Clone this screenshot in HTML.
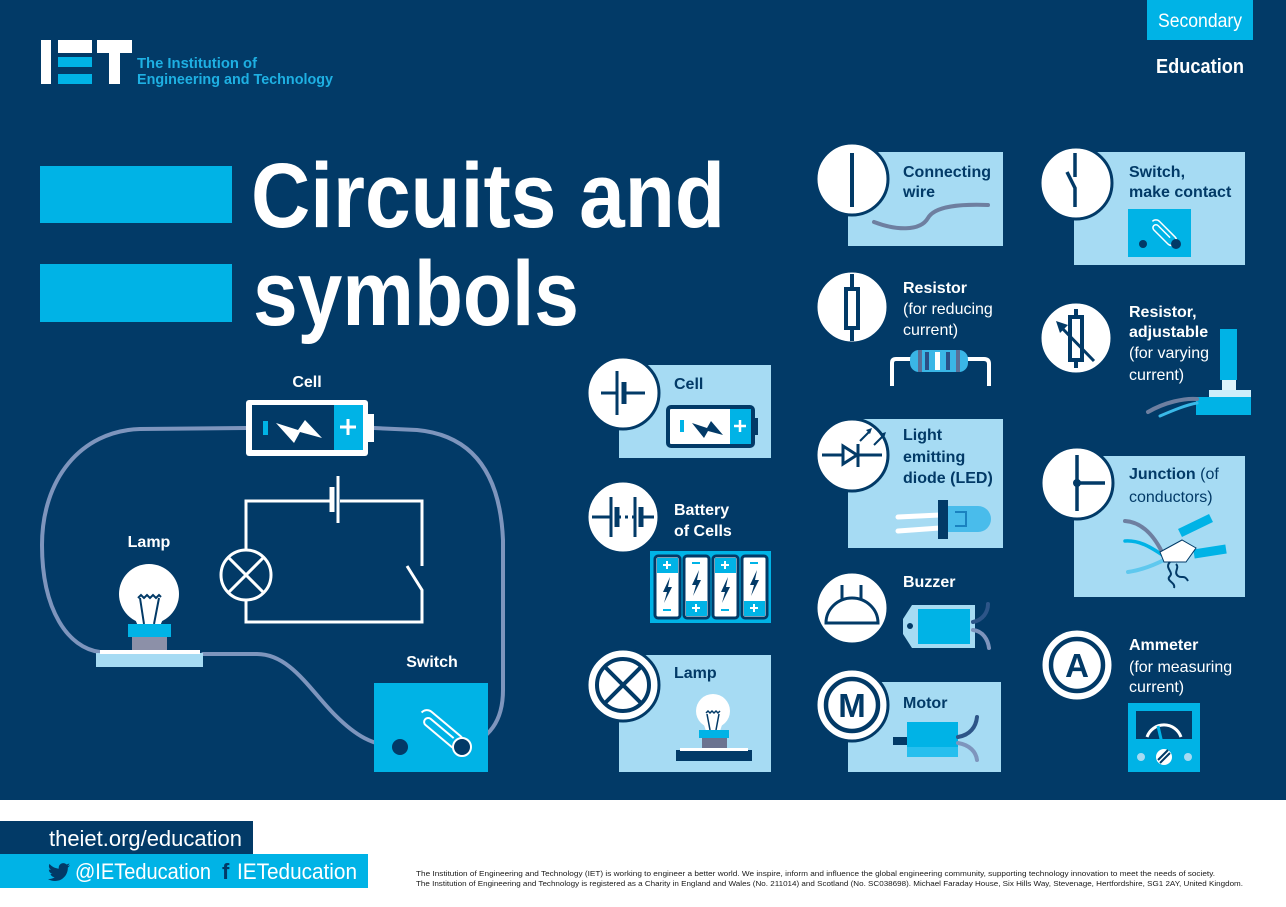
<!DOCTYPE html>
<html><head><meta charset="utf-8"><style>
html,body{margin:0;padding:0;background:#fff;}
svg{display:block;}
text{font-family:"Liberation Sans",sans-serif;}
</style></head><body>
<svg width="1286" height="907" viewBox="0 0 1286 907" xmlns="http://www.w3.org/2000/svg">
<rect width="1286" height="907" fill="#fff"/>
<rect width="1286" height="800" fill="#023a67"/>

<!-- Logo -->
<rect x="41" y="40" width="10" height="44" fill="#fff"/>
<rect x="58" y="40" width="34" height="13" fill="#fff"/>
<rect x="58" y="57" width="34" height="10" fill="#00b3e6"/>
<rect x="58" y="74" width="34" height="10" fill="#00b3e6"/>
<rect x="97" y="40" width="35" height="13" fill="#fff"/>
<rect x="109" y="40" width="11" height="44" fill="#fff"/>
<text x="137" y="68" font-size="15" font-weight="bold" fill="#1eb0e3" textLength="120" lengthAdjust="spacingAndGlyphs">The Institution of</text>
<text x="137" y="84" font-size="15" font-weight="bold" fill="#1eb0e3" textLength="196" lengthAdjust="spacingAndGlyphs">Engineering and Technology</text>

<!-- Secondary / Education -->
<rect x="1147" y="0" width="106" height="40" fill="#00b3e6"/>
<text x="1200" y="27" font-size="19" fill="#fff" text-anchor="middle" textLength="84" lengthAdjust="spacingAndGlyphs">Secondary</text>
<text x="1200" y="73" font-size="20" font-weight="bold" fill="#fff" text-anchor="middle" textLength="88" lengthAdjust="spacingAndGlyphs">Education</text>

<!-- Title -->
<rect x="40" y="166" width="192" height="57" fill="#00b3e6"/>
<rect x="40" y="264" width="192" height="58" fill="#00b3e6"/>
<text x="251" y="227" font-size="92" font-weight="bold" fill="#fff" textLength="474" lengthAdjust="spacingAndGlyphs">Circuits and</text>
<text x="253" y="325" font-size="92" font-weight="bold" fill="#fff" textLength="326" lengthAdjust="spacingAndGlyphs">symbols</text>

<!-- Left circuit wires -->
<g fill="none" stroke="#7e95bd" stroke-width="4" stroke-linecap="round">
<path d="M246,428 L140,429 C80,431 42,480 42,545 C42,610 68,648 100,652"/>
<path d="M203,654 L257,654 C290,654 310,690 335,715 C355,735 372,746 400,747"/>
<path d="M374,428 L417,430 C470,435 500,470 503,540 L503,690 C503,720 490,740 462,747"/>
</g>

<!-- big battery -->
<text x="307" y="387" font-size="16" font-weight="bold" fill="#fff" text-anchor="middle">Cell</text>
<rect x="246" y="400" width="122" height="56" rx="3" fill="#fff"/>
<rect x="252" y="405" width="82" height="45" fill="#023a67"/>
<rect x="334" y="405" width="29" height="45" fill="#00b3e6"/>
<rect x="368" y="414" width="6" height="28" fill="#fff"/>
<rect x="263" y="421" width="5" height="14" fill="#00b3e6"/>
<path d="M276,423 L298,430 L305,420 L322,438 L300,432 L294,443 Z" fill="#fff"/>
<path d="M348,419 v16 M340,427 h16" stroke="#fff" stroke-width="3"/>

<!-- Schematic -->
<g fill="none" stroke="#fff" stroke-width="3">
<path d="M330,501 L246,501 L246,550"/>
<path d="M340,501 L422,501 L422,566"/>
<path d="M407,566 L422,590 L422,622 L246,622 L246,600"/>
<line x1="338" y1="476" x2="338" y2="523"/>
<circle cx="246" cy="575" r="25"/>
<path d="M228,557 L264,593 M264,557 L228,593"/>
</g>
<line x1="332" y1="487" x2="332" y2="512" stroke="#fff" stroke-width="5"/>

<!-- Left lamp -->
<text x="149" y="547" font-size="16" font-weight="bold" fill="#fff" text-anchor="middle">Lamp</text>
<circle cx="149" cy="594" r="30" fill="#fff"/>
<path d="M132,612 L138,626 L160,626 L166,612 Z" fill="#fff"/>
<path d="M138,598 l3,-3 l3,3 l3,-3 l3,3 l3,-3 l3,3 l3,-3 l2,2 M140,598 L144,624 M159,598 L154,624" stroke="#023a67" stroke-width="2" fill="none"/>
<rect x="128" y="624" width="43" height="13" fill="#00b3e6"/>
<rect x="132" y="637" width="35" height="14" fill="#8c90a8"/>
<rect x="96" y="653" width="107" height="14" fill="#a6dbf3"/>
<rect x="100" y="650" width="100" height="4" fill="#fff"/>

<!-- Switch box -->
<text x="432" y="667" font-size="16" font-weight="bold" fill="#fff" text-anchor="middle">Switch</text>
<rect x="374" y="683" width="114" height="89" fill="#00b3e6"/>
<g transform="rotate(40 440 728)" fill="none" stroke="#fff" stroke-width="2">
<path d="M416,728 a7,7 0 0 1 7,-7 h38 a7,7 0 0 1 0,14 h-34 a4,4 0 0 1 0,-8 h30"/>
</g>
<circle cx="400" cy="747" r="8" fill="#023a67"/>
<circle cx="462" cy="747" r="9" fill="#023a67" stroke="#fff" stroke-width="2"/>

<!-- ===== Middle column ===== -->
<rect x="619" y="365" width="152" height="93" fill="#a6dbf3"/>
<circle cx="623" cy="393" r="36" fill="#fff" stroke="#023a67" stroke-width="3"/>
<g stroke="#023a67" fill="none">
<path d="M601,393 H617 M624,393 H645" stroke-width="3"/>
<line x1="617" y1="371" x2="617" y2="415" stroke-width="3"/>
<line x1="624" y1="382" x2="624" y2="404" stroke-width="5"/>
</g>
<text x="674" y="389" font-size="16" font-weight="bold" fill="#023a67">Cell</text>
<rect x="668" y="407" width="85" height="39" rx="3" fill="#fff" stroke="#023a67" stroke-width="4"/>
<rect x="730" y="409" width="21" height="35" fill="#00b3e6"/>
<rect x="753" y="418" width="5" height="17" fill="#023a67"/>
<rect x="680" y="420" width="4" height="12" fill="#00b3e6"/>
<path d="M692,423 L707,428 L711,421 L723,435 L708,431 L704,438 Z" fill="#023a67"/>
<path d="M740,420 v12 M734,426 h12" stroke="#fff" stroke-width="2.5"/>

<!-- Battery of cells -->
<circle cx="623" cy="517" r="36" fill="#fff" stroke="#023a67" stroke-width="3"/>
<g stroke="#023a67" fill="none">
<path d="M592,517 H611 M617,517 H621 M625,517 H628 M632,517 H635 M641,517 H654" stroke-width="3"/>
<line x1="611" y1="497" x2="611" y2="537" stroke-width="3"/>
<line x1="617" y1="507" x2="617" y2="527" stroke-width="5"/>
<line x1="635" y1="497" x2="635" y2="537" stroke-width="3"/>
<line x1="641" y1="507" x2="641" y2="527" stroke-width="5"/>
</g>
<text x="674" y="515" font-size="16" font-weight="bold" fill="#fff">Battery</text>
<text x="674" y="536" font-size="16" font-weight="bold" fill="#fff">of Cells</text>
<rect x="650" y="551" width="121" height="72" fill="#00b3e6"/>
<g>
<rect x="655" y="556" width="25" height="62" rx="3" fill="#fff" stroke="#023a67" stroke-width="3"/>
<rect x="657" y="558" width="21" height="15" fill="#00b3e6"/>
<rect x="684" y="556" width="25" height="62" rx="3" fill="#fff" stroke="#023a67" stroke-width="3"/>
<rect x="686" y="601" width="21" height="15" fill="#00b3e6"/>
<rect x="713" y="556" width="25" height="62" rx="3" fill="#fff" stroke="#023a67" stroke-width="3"/>
<rect x="715" y="558" width="21" height="15" fill="#00b3e6"/>
<rect x="742" y="556" width="25" height="62" rx="3" fill="#fff" stroke="#023a67" stroke-width="3"/>
<rect x="744" y="601" width="21" height="15" fill="#00b3e6"/>
<g stroke="#fff" stroke-width="2">
<path d="M667,561 v8 M663,565 h8 M725,561 v8 M721,565 h8 M696,604 v8 M692,608 h8 M754,604 v8 M750,608 h8"/>
</g>
<g stroke="#00b3e6" stroke-width="2">
<path d="M663,610 h8 M721,610 h8 M692,563 h8 M750,563 h8"/>
</g>
<g fill="#023a67">
<path d="M670,577 L663,592 L667,592 L664,603 L672,587 L668,587 Z"/>
<path d="M699,570 L692,585 L696,585 L693,596 L701,580 L697,580 Z"/>
<path d="M728,577 L721,592 L725,592 L722,603 L730,587 L726,587 Z"/>
<path d="M757,570 L750,585 L754,585 L751,596 L759,580 L755,580 Z"/>
</g>
</g>

<!-- Lamp card -->
<rect x="619" y="655" width="152" height="117" fill="#a6dbf3"/>
<circle cx="623" cy="685" r="36" fill="#fff" stroke="#023a67" stroke-width="3"/>
<circle cx="623" cy="685" r="26" fill="none" stroke="#023a67" stroke-width="4"/>
<path d="M605,667 L641,703 M641,667 L605,703" stroke="#023a67" stroke-width="4"/>
<text x="674" y="678" font-size="16" font-weight="bold" fill="#023a67">Lamp</text>
<circle cx="713" cy="711" r="17" fill="#fff"/>
<path d="M703,722 L706,731 L720,731 L723,722 Z" fill="#fff"/>
<path d="M706,713 l2,-2 l2,2 l2,-2 l2,2 l2,-2 l2,2 l2,-2 M707,714 L710,730 M719,714 L716,730" stroke="#023a67" stroke-width="1.5" fill="none"/>
<rect x="699" y="730" width="30" height="8" fill="#00b3e6"/>
<rect x="702" y="738" width="25" height="12" fill="#6b7390"/>
<rect x="676" y="750" width="76" height="11" fill="#023a67"/>
<rect x="680" y="748" width="68" height="3" fill="#fff"/>

<!-- ===== Column 3 ===== -->
<rect x="848" y="152" width="155" height="94" fill="#a6dbf3"/>
<circle cx="852" cy="179" r="36" fill="#fff" stroke="#023a67" stroke-width="3"/>
<line x1="852" y1="153" x2="852" y2="207" stroke="#023a67" stroke-width="4"/>
<text x="903" y="177" font-size="16" font-weight="bold" fill="#023a67">Connecting</text>
<text x="903" y="197" font-size="16" font-weight="bold" fill="#023a67">wire</text>
<path d="M874,222 C895,230 920,232 928,218 C935,206 960,204 988,205" fill="none" stroke="#6e7fa0" stroke-width="4" stroke-linecap="round"/>

<!-- Resistor -->
<circle cx="852" cy="307" r="36" fill="#fff" stroke="#023a67" stroke-width="3"/>
<line x1="852" y1="274" x2="852" y2="341" stroke="#023a67" stroke-width="4"/>
<rect x="846" y="289" width="12" height="39" fill="#fff" stroke="#023a67" stroke-width="4"/>
<text x="903" y="293" font-size="16" font-weight="bold" fill="#fff">Resistor</text>
<text x="903" y="314" font-size="16" fill="#fff">(for reducing</text>
<text x="903" y="335" font-size="16" fill="#fff">current)</text>
<path d="M892,386 L892,363 Q892,359 896,359 L914,359 M964,359 L984,359 Q989,359 989,364 L989,386" fill="none" stroke="#fff" stroke-width="4"/>
<rect x="910" y="350" width="58" height="22" rx="9" fill="#3ab6e6"/>
<rect x="918" y="350" width="4" height="22" fill="#5a6e96"/>
<rect x="925" y="352" width="4" height="18" fill="#2a4f86"/>
<rect x="935" y="352" width="5" height="18" fill="#fff"/>
<rect x="946" y="352" width="4" height="18" fill="#2a4f86"/>
<rect x="956" y="350" width="4" height="22" fill="#5a6e96"/>

<!-- LED -->
<rect x="848" y="419" width="155" height="129" fill="#a6dbf3"/>
<circle cx="852" cy="455" r="36" fill="#fff" stroke="#023a67" stroke-width="3"/>
<g stroke="#023a67" stroke-width="3" fill="none">
<path d="M822,455 H882"/>
<path d="M843,446 L843,464 L857,455 Z" fill="#fff"/>
<line x1="858" y1="444" x2="858" y2="467"/>
<path d="M860,441 L870,431 M874,445 L884,435" stroke-width="2"/>
</g>
<path d="M872,428 L866,430 L870,434 Z M886,432 L880,434 L884,438 Z" fill="#023a67"/>
<text x="903" y="440" font-size="16" font-weight="bold" fill="#023a67">Light</text>
<text x="903" y="462" font-size="16" font-weight="bold" fill="#023a67">emitting</text>
<text x="903" y="483" font-size="16" font-weight="bold" fill="#023a67">diode (LED)</text>
<path d="M898,517 L940,515 M898,531 L940,528" stroke="#fff" stroke-width="5" stroke-linecap="round"/>
<path d="M948,506 L978,506 A13,13 0 0 1 978,532 L948,532 Z" fill="#3fb8ea" opacity="0.9"/>
<path d="M955,512 L966,512 L966,526 L955,526" fill="none" stroke="#1a82c0" stroke-width="2"/>
<rect x="938" y="500" width="10" height="39" fill="#023a67"/>

<!-- Buzzer -->
<circle cx="852" cy="608" r="36" fill="#fff" stroke="#023a67" stroke-width="3"/>
<path d="M826,623 L878,623 A26,25 0 0 0 826,623 Z" fill="none" stroke="#023a67" stroke-width="3"/>
<path d="M842,585 V599 M861,585 V599" stroke="#023a67" stroke-width="3"/>
<text x="903" y="587" font-size="16" font-weight="bold" fill="#fff">Buzzer</text>
<path d="M903,619 L912,605 L975,605 L975,648 L912,648 L903,634 Z" fill="#a6dbf3"/>
<rect x="918" y="609" width="52" height="35" fill="#00b3e6"/>
<circle cx="910" cy="626" r="3" fill="#023a67"/>
<path d="M973,622 C983,620 988,612 988,604 M973,630 C983,631 988,640 989,648" fill="none" stroke-width="4" stroke-linecap="round"/>
<path d="M973,622 C983,620 988,612 988,604" fill="none" stroke="#2d5588" stroke-width="4" stroke-linecap="round"/>
<path d="M973,630 C983,631 988,640 989,648" fill="none" stroke="#7e95bd" stroke-width="4" stroke-linecap="round"/>

<!-- Motor -->
<rect x="848" y="682" width="153" height="90" fill="#a6dbf3"/>
<circle cx="852" cy="705" r="36" fill="#fff" stroke="#023a67" stroke-width="3"/>
<circle cx="852" cy="705" r="26" fill="none" stroke="#023a67" stroke-width="4.5"/>
<text x="852" y="717" font-size="33" font-weight="bold" fill="#023a67" text-anchor="middle">M</text>
<text x="903" y="708" font-size="16" font-weight="bold" fill="#023a67">Motor</text>
<rect x="893" y="737" width="15" height="8" fill="#023a67"/>
<rect x="907" y="722" width="51" height="35" fill="#00b3e6"/>
<rect x="907" y="747" width="51" height="10" fill="#27bfee"/>
<path d="M958,737 C970,735 976,727 977,717" fill="none" stroke="#2d5588" stroke-width="4" stroke-linecap="round"/>
<path d="M958,743 C970,745 976,752 977,760" fill="none" stroke="#7e95bd" stroke-width="4" stroke-linecap="round"/>

<!-- ===== Column 4 ===== -->
<rect x="1074" y="152" width="171" height="113" fill="#a6dbf3"/>
<circle cx="1076" cy="183" r="36" fill="#fff" stroke="#023a67" stroke-width="3"/>
<path d="M1075,153 V177 M1067,172 L1075,188 V207" fill="none" stroke="#023a67" stroke-width="3.5"/>
<text x="1129" y="177" font-size="16" font-weight="bold" fill="#023a67">Switch,</text>
<text x="1129" y="197" font-size="16" font-weight="bold" fill="#023a67">make contact</text>
<rect x="1128" y="209" width="63" height="48" fill="#00b3e6"/>
<g transform="rotate(45 1163 232)" fill="none" stroke="#fff" stroke-width="1.5">
<path d="M1148,232 a5,5 0 0 1 5,-5 h22 a5,5 0 0 1 0,10 h-20 a3,3 0 0 1 0,-6 h17"/>
</g>
<circle cx="1143" cy="244" r="4" fill="#023a67"/>
<circle cx="1176" cy="244" r="5" fill="#023a67"/>

<!-- Adjustable resistor -->
<circle cx="1076" cy="338" r="36" fill="#fff" stroke="#023a67" stroke-width="3"/>
<line x1="1076" y1="309" x2="1076" y2="368" stroke="#023a67" stroke-width="4"/>
<rect x="1070" y="317" width="12" height="43" fill="#fff" stroke="#023a67" stroke-width="4"/>
<line x1="1094" y1="361" x2="1061" y2="327" stroke="#023a67" stroke-width="3"/>
<path d="M1056,321 L1068,325 L1060,333 Z" fill="#023a67"/>
<text x="1129" y="317" font-size="16" font-weight="bold" fill="#fff">Resistor,</text>
<text x="1129" y="337" font-size="16" font-weight="bold" fill="#fff">adjustable</text>
<text x="1129" y="358" font-size="16" fill="#fff">(for varying</text>
<text x="1129" y="380" font-size="16" fill="#fff">current)</text>
<rect x="1220" y="329" width="17" height="51" fill="#00b3e6"/>
<rect x="1222" y="380" width="14" height="10" fill="#dff3fb"/>
<rect x="1209" y="390" width="42" height="7" fill="#cdeefa"/>
<rect x="1196" y="397" width="55" height="18" fill="#00b3e6"/>
<path d="M1148,412 C1165,402 1185,398 1197,399" fill="none" stroke="#6e7fa0" stroke-width="4" stroke-linecap="round"/>
<path d="M1160,416 C1174,410 1186,405 1197,403" fill="none" stroke="#3ab9e8" stroke-width="3" stroke-linecap="round"/>

<!-- Junction -->
<rect x="1074" y="456" width="171" height="141" fill="#a6dbf3"/>
<circle cx="1077" cy="483" r="36" fill="#fff" stroke="#023a67" stroke-width="3"/>
<path d="M1077,455 V511 M1077,483 H1105" stroke="#023a67" stroke-width="3.5"/>
<circle cx="1077" cy="483" r="4" fill="#023a67"/>
<text x="1129" y="479" font-size="16" fill="#023a67"><tspan font-weight="bold">Junction</tspan> (of</text>
<text x="1129" y="502" font-size="16" fill="#023a67">conductors)</text>
<path d="M1125,521 C1140,522 1152,532 1162,552" fill="none" stroke="#6e7fa0" stroke-width="4" stroke-linecap="round"/>
<path d="M1125,541 C1140,540 1152,548 1164,556" fill="none" stroke="#00b3e6" stroke-width="3.5" stroke-linecap="round"/>
<path d="M1128,572 C1142,570 1154,565 1164,560" fill="none" stroke="#5fc8ee" stroke-width="4" stroke-linecap="round"/>
<line x1="1180" y1="533" x2="1211" y2="518" stroke="#00b3e6" stroke-width="9"/>
<line x1="1194" y1="554" x2="1226" y2="549" stroke="#00b3e6" stroke-width="9"/>
<path d="M1160,552 L1182,540 L1196,548 L1186,562 L1164,562 Z" fill="#fff" stroke="#023a67" stroke-width="1"/>
<path d="M1170,562 c-6,6 4,10 0,14 c-5,5 6,6 4,12 M1176,564 c4,4 -3,8 2,12 c4,3 6,-2 10,5" fill="none" stroke="#023a67" stroke-width="2"/>

<!-- Ammeter -->
<circle cx="1077" cy="665" r="36" fill="#fff" stroke="#023a67" stroke-width="3"/>
<circle cx="1077" cy="665" r="26" fill="none" stroke="#023a67" stroke-width="4.5"/>
<text x="1077" y="677" font-size="33" font-weight="bold" fill="#023a67" text-anchor="middle">A</text>
<text x="1129" y="650" font-size="16" font-weight="bold" fill="#fff">Ammeter</text>
<text x="1129" y="672" font-size="16" fill="#fff">(for measuring</text>
<text x="1129" y="692" font-size="16" fill="#fff">current)</text>
<rect x="1128" y="703" width="72" height="69" fill="#00b3e6"/>
<rect x="1136" y="711" width="56" height="28" fill="#023a67"/>
<path d="M1147,737 A18,18 0 0 1 1181,737" fill="none" stroke="#fff" stroke-width="3"/>
<line x1="1164" y1="752" x2="1158" y2="726" stroke="#00b3e6" stroke-width="3"/>
<circle cx="1164" cy="757" r="8" fill="#fff"/>
<path d="M1158,760 L1168,750 M1160,763 L1170,753" stroke="#023a67" stroke-width="2"/>
<circle cx="1141" cy="757" r="4" fill="#a6dbf3"/>
<circle cx="1188" cy="757" r="4" fill="#a6dbf3"/>

<!-- Footer -->
<rect x="0" y="821" width="253" height="33" fill="#023a67"/>
<text x="49" y="846" font-size="22" fill="#fff" textLength="193" lengthAdjust="spacingAndGlyphs">theiet.org/education</text>
<rect x="0" y="854" width="368" height="34" fill="#00b3e6"/>
<path transform="translate(48,861) scale(0.92)" fill="#023a67" d="M23.954 4.569c-.885.389-1.83.654-2.825.775 1.014-.611 1.794-1.574 2.163-2.723-.951.555-2.005.959-3.127 1.184-.896-.959-2.173-1.559-3.591-1.559-2.717 0-4.92 2.203-4.92 4.917 0 .39.045.765.127 1.124C7.691 8.094 4.066 6.13 1.64 3.161c-.427.722-.666 1.561-.666 2.475 0 1.71.87 3.213 2.188 4.096-.807-.026-1.566-.248-2.228-.616v.061c0 2.385 1.693 4.374 3.946 4.827-.413.111-.849.171-1.296.171-.314 0-.615-.03-.916-.086.631 1.953 2.445 3.377 4.604 3.417-1.68 1.319-3.809 2.105-6.102 2.105-.39 0-.779-.023-1.17-.067 2.189 1.394 4.768 2.209 7.557 2.209 9.054 0 13.999-7.496 13.999-13.986 0-.209 0-.42-.015-.63.961-.689 1.8-1.56 2.46-2.548l-.047-.02z"/>
<text x="75" y="879" font-size="22" fill="#fff" textLength="136" lengthAdjust="spacingAndGlyphs">@IETeducation</text>
<text x="222" y="879" font-size="22" font-weight="bold" fill="#023a67">f</text>
<text x="237" y="879" font-size="22" fill="#fff" textLength="120" lengthAdjust="spacingAndGlyphs">IETeducation</text>

<text x="416" y="876" font-size="7.5" fill="#1a1a1a" textLength="799" lengthAdjust="spacingAndGlyphs">The Institution of Engineering and Technology (IET) is working to engineer a better world. We inspire, inform and influence the global engineering community, supporting technology innovation to meet the needs of society.</text>
<text x="416" y="886" font-size="7.5" fill="#1a1a1a" textLength="827" lengthAdjust="spacingAndGlyphs">The Institution of Engineering and Technology is registered as a Charity in England and Wales (No. 211014) and Scotland (No. SC038698). Michael Faraday House, Six Hills Way, Stevenage, Hertfordshire, SG1 2AY, United Kingdom.</text>
</svg>
</body></html>
